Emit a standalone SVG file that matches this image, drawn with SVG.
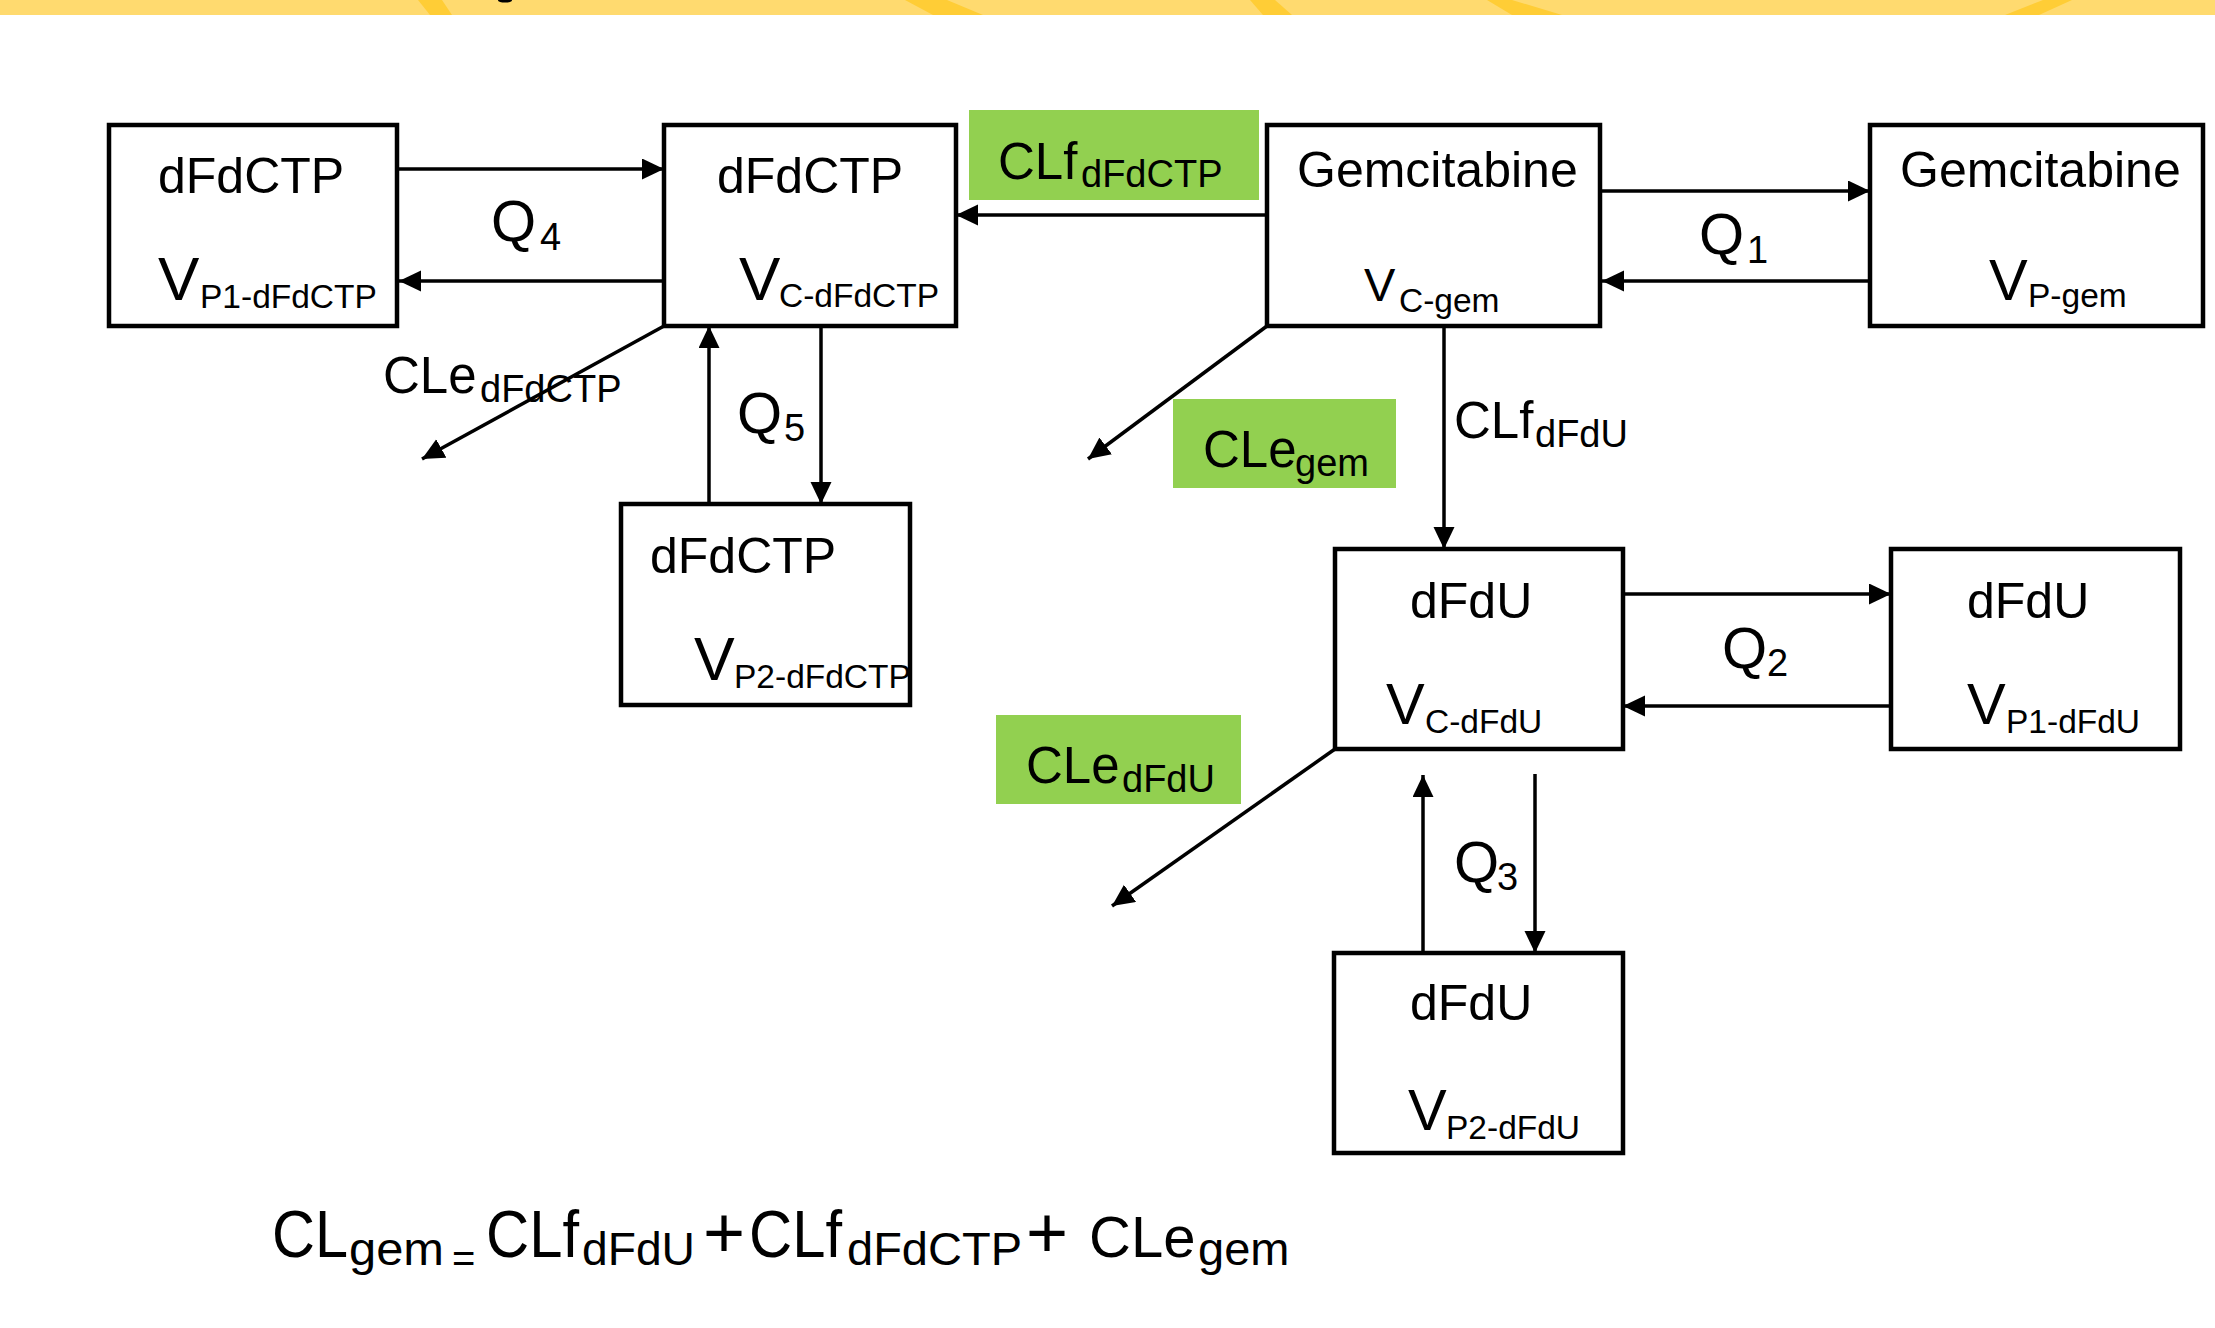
<svg xmlns="http://www.w3.org/2000/svg" width="2215" height="1328" viewBox="0 0 2215 1328">
  <style>
    text { font-family: "Liberation Sans", Arial, sans-serif; fill: #000; }
    .box { fill: #fff; stroke: #000; stroke-width: 4.5; }
    .tag { fill: #92D050; }
    .wire { fill: none; stroke: #000; stroke-width: 3.5; marker-end: url(#head); }
    .lbl { font-size: 50px; }
    .sub { font-size: 33.5px; }
    .q { font-size: 58px; }
    .qn { font-size: 38px; }
    .cl { font-size: 51px; }
    .cls { font-size: 38px; }
    .eq { font-size: 66px; }
    .eqs { font-size: 47px; }
    .plus { font-size: 72px; }
  </style>
  <defs>
    <marker id="head" markerUnits="userSpaceOnUse" markerWidth="24" markerHeight="22" refX="22" refY="10.5" orient="auto">
      <path d="M0,0 L22,10.5 L0,21 z" fill="#000"/>
    </marker>
  </defs>

  <!-- header strip -->
  <g id="header">
    <rect x="0" y="0" width="2215" height="15" fill="#FFDA6F"/>
    <g fill="#FFCD36">
      <polygon points="418,0 442,0 452,15 430,15"/>
      <polygon points="905,0 947,0 983,15 933,15"/>
      <polygon points="1250,0 1275,0 1292,15 1263,15"/>
      <polygon points="1487,0 1512,0 1562,15 1512,15"/>
      <polygon points="2043,0 2072,0 2039,15 2005,15"/>
    </g>
    <ellipse cx="505" cy="0.5" rx="7" ry="2" fill="#000"/>
  </g>

  <!-- clearance / flow labels on green -->
  <g id="tag-clf-dfdctp">
    <rect class="tag" x="969" y="110" width="290" height="90"/>
    <text class="cl" x="998" y="179">CLf<tspan class="cls" x="1081" y="187">dFdCTP</tspan></text>
  </g>
  <g id="tag-cle-gem">
    <rect class="tag" x="1173" y="399" width="223" height="89"/>
    <text class="cl" x="1203" y="467">CLe<tspan class="cls" x="1295" y="476">gem</tspan></text>
  </g>
  <g id="tag-cle-dfdu">
    <rect class="tag" x="996" y="715" width="245" height="89"/>
    <text class="cl" x="1026" y="783">CLe<tspan class="cls" x="1122" y="792">dFdU</tspan></text>
  </g>

  <!-- connectors -->
  <g id="connectors">
    <line class="wire" x1="399" y1="169" x2="664" y2="169"/>
    <line class="wire" x1="664" y1="281" x2="399" y2="281"/>
    <line class="wire" x1="1267" y1="215" x2="956" y2="215"/>
    <line class="wire" x1="1602" y1="191" x2="1870" y2="191"/>
    <line class="wire" x1="1870" y1="281" x2="1602" y2="281"/>
    <line class="wire" x1="664" y1="326" x2="422" y2="459"/>
    <line class="wire" x1="709" y1="504" x2="709" y2="326"/>
    <line class="wire" x1="821" y1="326" x2="821" y2="504"/>
    <line class="wire" x1="1267" y1="326" x2="1088" y2="459"/>
    <line class="wire" x1="1444" y1="326" x2="1444" y2="549"/>
    <line class="wire" x1="1623" y1="594" x2="1891" y2="594"/>
    <line class="wire" x1="1891" y1="706" x2="1623" y2="706"/>
    <line class="wire" x1="1423" y1="953" x2="1423" y2="775"/>
    <line class="wire" x1="1535" y1="774" x2="1535" y2="953"/>
    <line class="wire" x1="1335" y1="749" x2="1112" y2="906"/>
  </g>

  <!-- connector labels -->
  <g id="flow-labels">
    <text class="q" x="491" y="241">Q<tspan class="qn" x="540" y="250">4</tspan></text>
    <text class="q" x="1699" y="254">Q<tspan class="qn" x="1747" y="263">1</tspan></text>
    <text class="q" x="737" y="433">Q<tspan class="qn" x="784" y="441">5</tspan></text>
    <text class="q" x="1722" y="668">Q<tspan class="qn" x="1767" y="676">2</tspan></text>
    <text class="q" x="1454" y="882">Q<tspan class="qn" x="1497" y="890">3</tspan></text>
    <text class="cl" x="383" y="393">CLe<tspan class="cls" x="480" y="402">dFdCTP</tspan></text>
    <text class="cl" x="1454" y="438">CLf<tspan class="cls" x="1535" y="447">dFdU</tspan></text>
  </g>

  <!-- compartments -->
  <g id="dfdctp-p1">
    <rect class="box" x="109" y="125" width="288" height="201"/>
    <text class="lbl" x="158" y="193">dFdCTP</text>
    <text x="158" y="300" font-size="62">V<tspan class="sub" x="200" y="308">P1-dFdCTP</tspan></text>
  </g>
  <g id="dfdctp-c">
    <rect class="box" x="664" y="125" width="292" height="201"/>
    <text class="lbl" x="717" y="193">dFdCTP</text>
    <text x="739" y="300" font-size="62">V<tspan class="sub" x="779" y="307">C-dFdCTP</tspan></text>
  </g>
  <g id="dfdctp-p2">
    <rect class="box" x="621" y="504" width="289" height="201"/>
    <text class="lbl" x="650" y="573">dFdCTP</text>
    <text x="694" y="680" font-size="61">V<tspan class="sub" x="734" y="688">P2-dFdCTP</tspan></text>
  </g>
  <g id="gem-c">
    <rect class="box" x="1267" y="125" width="333" height="201"/>
    <text class="lbl" x="1297" y="187">Gemcitabine</text>
    <text x="1364" y="301" font-size="47">V<tspan class="sub" x="1399" y="312">C-gem</tspan></text>
  </g>
  <g id="gem-p">
    <rect class="box" x="1870" y="125" width="333" height="201"/>
    <text class="lbl" x="1900" y="187">Gemcitabine</text>
    <text x="1989" y="300" font-size="58">V<tspan class="sub" x="2028" y="307">P-gem</tspan></text>
  </g>
  <g id="dfdu-c">
    <rect class="box" x="1335" y="549" width="288" height="200"/>
    <text class="lbl" x="1410" y="618">dFdU</text>
    <text x="1386" y="724" font-size="58">V<tspan class="sub" x="1425" y="733">C-dFdU</tspan></text>
  </g>
  <g id="dfdu-p1">
    <rect class="box" x="1891" y="549" width="289" height="200"/>
    <text class="lbl" x="1967" y="618">dFdU</text>
    <text x="1967" y="724" font-size="58">V<tspan class="sub" x="2006" y="733">P1-dFdU</tspan></text>
  </g>
  <g id="dfdu-p2">
    <rect class="box" x="1334" y="953" width="289" height="200"/>
    <text class="lbl" x="1410" y="1020">dFdU</text>
    <text x="1408" y="1130" font-size="58">V<tspan class="sub" x="1446" y="1139">P2-dFdU</tspan></text>
  </g>

  <!-- total clearance relation, each piece fitted to its slot -->
  <g id="formula">
    <text class="eq" x="272" y="1257" textLength="76" lengthAdjust="spacingAndGlyphs">CL</text>
    <text class="eqs" x="349" y="1265" textLength="95" lengthAdjust="spacingAndGlyphs">gem</text>
    <text font-size="40" x="452" y="1272">=</text>
    <text class="eq" x="486" y="1257" textLength="93" lengthAdjust="spacingAndGlyphs">CLf</text>
    <text class="eqs" x="582" y="1265" textLength="113" lengthAdjust="spacingAndGlyphs">dFdU</text>
    <text class="plus" x="703" y="1257">+</text>
    <text class="eq" x="749" y="1257" textLength="93" lengthAdjust="spacingAndGlyphs">CLf</text>
    <text class="eqs" x="847" y="1265" textLength="175" lengthAdjust="spacingAndGlyphs">dFdCTP</text>
    <text class="plus" x="1026" y="1257">+</text>
    <text font-size="58" x="1089" y="1257">CLe</text>
    <text class="eqs" x="1198" y="1265">gem</text>
  </g>
</svg>
